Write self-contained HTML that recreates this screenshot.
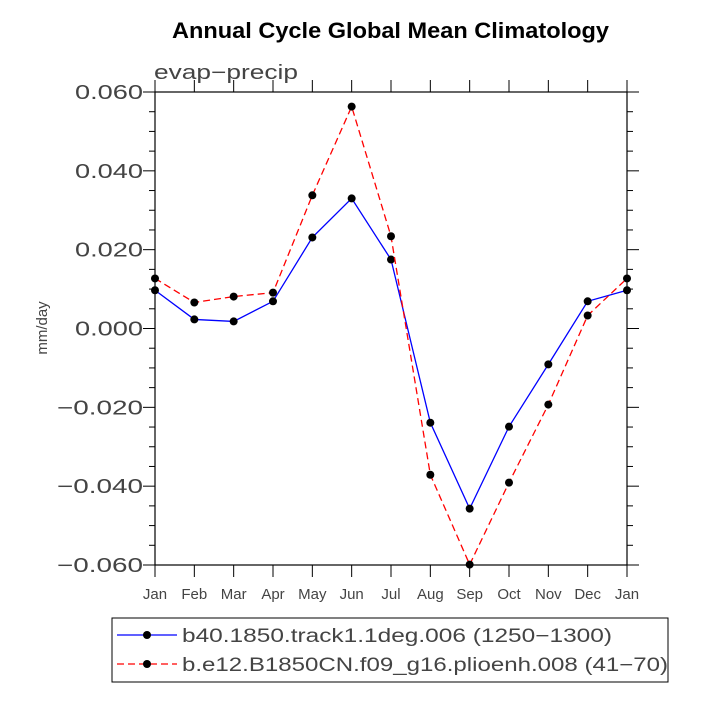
<!DOCTYPE html>
<html><head><meta charset="utf-8"><style>body{margin:0;background:#fff}svg{display:block}</style></head>
<body>
<svg id="c" width="701" height="702" xmlns="http://www.w3.org/2000/svg" font-family="Liberation Sans, sans-serif">
<text x="172" y="38" font-weight="bold" font-size="22" textLength="437" lengthAdjust="spacingAndGlyphs">Annual Cycle Global Mean Climatology</text>
<text x="154" y="79" font-size="20" fill="#444" textLength="144" lengthAdjust="spacingAndGlyphs">evap−precip</text>
<text transform="translate(47,328) rotate(-90)" text-anchor="middle" font-size="15" fill="#444">mm/day</text>
<g id="axes"></g>
<g id="series"></g>
<g>
<rect x="112" y="618" width="556" height="64" fill="none" stroke="#000"/>
<line x1="117" y1="635" x2="177" y2="635" stroke="#0000ff" stroke-width="1.3"/><circle cx="147" cy="635" r="4" fill="#000"/>
<text x="182" y="642" font-size="19" fill="#444" textLength="430" lengthAdjust="spacingAndGlyphs">b40.1850.track1.1deg.006 (1250−1300)</text>
<line x1="117" y1="664" x2="177" y2="664" stroke="#ff0000" stroke-width="1.3" stroke-dasharray="7,4"/><circle cx="147" cy="664" r="4" fill="#000"/>
<text x="182" y="671" font-size="19" fill="#444" textLength="486" lengthAdjust="spacingAndGlyphs">b.e12.B1850CN.f09_g16.plioenh.008 (41−70)</text>
</g>
</svg>
<script>
const months=["Jan","Feb","Mar","Apr","May","Jun","Jul","Aug","Sep","Oct","Nov","Dec","Jan"];
const yTicks=[0.06,0.04,0.02,0,-0.02,-0.04,-0.06];
const yTickLabels=["0.060","0.040","0.020","0.000","−0.020","−0.040","−0.060"];
const blueVals=[0.0097,0.0023,0.0018,0.0069,0.0231,0.033,0.0175,-0.0239,-0.0457,-0.0249,-0.0091,0.0069,0.0097];
const redVals=[0.0127,0.0066,0.0081,0.0091,0.0338,0.0563,0.0234,-0.0371,-0.0599,-0.0391,-0.0193,0.0033,0.0127];
const NS="http://www.w3.org/2000/svg";
const L=155,R=627,T=92,B=565;
const x=i=>L+(R-L)*i/(months.length-1);
const y=v=>T+(0.06-v)/0.12*(B-T);
function mk(t,a,p){const e=document.createElementNS(NS,t);for(const k in a)e.setAttribute(k,a[k]);p.appendChild(e);return e;}
const ax=document.getElementById('axes');
const fr=mk('rect',{x:L,y:T,width:R-L,height:B-T,fill:'none',stroke:'#000','stroke-width':1.2},ax);


for(let i=0;i<months.length;i++){
  mk('line',{x1:x(i),x2:x(i),y1:B,y2:B+12,stroke:'#000'},ax);
  mk('line',{x1:x(i),x2:x(i),y1:T,y2:T-12,stroke:'#000'},ax);
  const t=mk('text',{x:x(i),y:B+34,'text-anchor':'middle','font-size':15,fill:'#444'},ax);t.textContent=months[i];
  
  
}
for(let v=-0.06;v<=0.0601;v+=0.005){
  const major=Math.abs(Math.round(v*1000)%20)===0;const len=major?12:6;
  mk('line',{x1:L-len,x2:L,y1:y(v),y2:y(v),stroke:'#000'},ax);
  mk('line',{x1:R,x2:R+len,y1:y(v),y2:y(v),stroke:'#000'},ax);
}
yTicks.forEach((v,i)=>{const lab=yTickLabels[i];
  const t=mk('text',{x:L-12,y:y(v)+7,'text-anchor':'end','font-size':20,fill:'#444',textLength:lab.length>5?86:68,lengthAdjust:'spacingAndGlyphs'},ax);t.textContent=lab;
  
  });
const sg=document.getElementById('series');
function series(vals,col,dash,name){
  const p=mk('polyline',{points:vals.map((v,i)=>x(i)+','+y(v)).join(' '),fill:'none',stroke:col,'stroke-width':1.3,'stroke-dasharray':dash},sg);
  
  
  vals.forEach((v,i)=>{const c=mk('circle',{cx:x(i),cy:y(v),r:4,fill:'#000'},sg);
    
    });
}
series(blueVals,'#0000ff','none','blue-series');
series(redVals,'#ff0000','7,4','red-series');
</script>
</body></html>
